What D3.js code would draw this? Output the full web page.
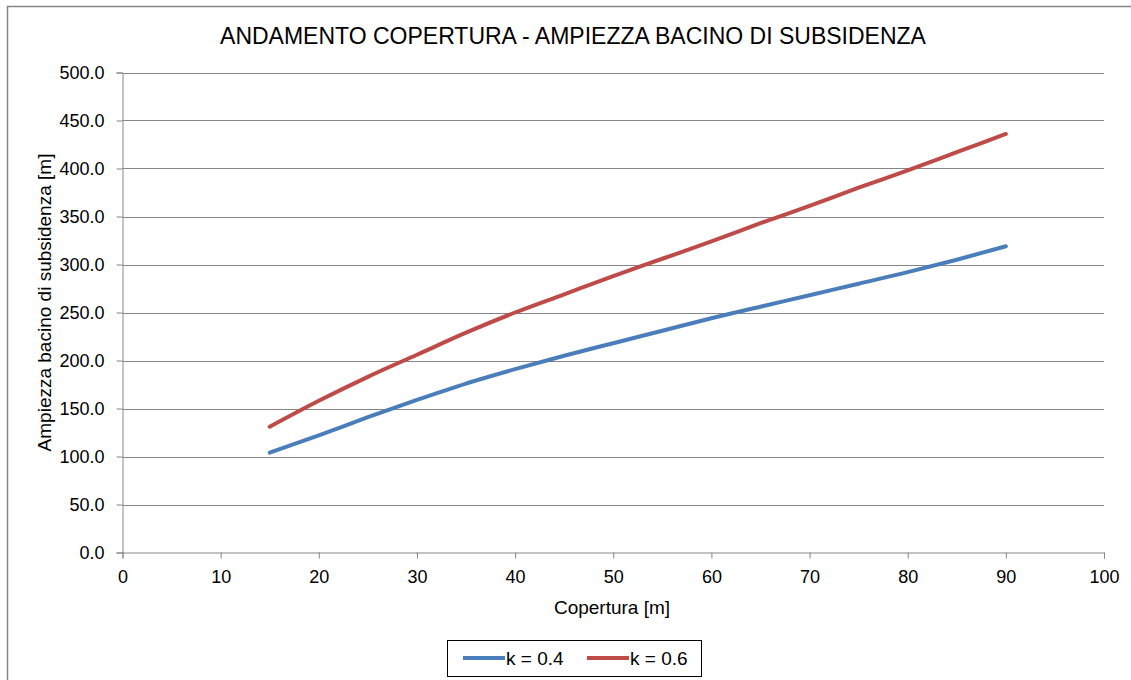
<!DOCTYPE html>
<html>
<head>
<meta charset="utf-8">
<script src="https://cdn.jsdelivr.net/npm/d3@7"></script>
<style>
  html, body { margin: 0; padding: 0; background: #fff; }
  svg { display: block; font-family: "Liberation Sans", Arial, sans-serif; }
</style>
</head>
<body>
<svg id="chart" width="1131" height="680"></svg>
<script>
const coverage = [15, 20, 25, 30, 35, 40, 45, 50, 55, 60, 65, 70, 75, 80, 85, 90];
const widthK04 = [104, 122, 141, 159, 176, 191, 205, 218, 231, 244, 256, 268, 280, 292, 305, 319];
const widthK06 = [131, 158, 183, 206, 229, 250, 269, 288, 306, 324, 343, 361, 380, 398, 417, 436];
const seriesNames = ["k = 0.4", "k = 0.6"];
const seriesColors = ["#4a7ebb", "#be4b48"];
const xTicks = [0, 10, 20, 30, 40, 50, 60, 70, 80, 90, 100];
const yTicks = [0, 50, 100, 150, 200, 250, 300, 350, 400, 450, 500];
const titleText = "ANDAMENTO COPERTURA - AMPIEZZA BACINO DI SUBSIDENZA";
const xTitle = "Copertura [m]";
const yTitle = "Ampiezza  bacino di subsidenza [m]";

const svg = d3.select("#chart");
const FONT = "'Liberation Sans', Arial, sans-serif";

// outer chart frame
svg.append("rect").attr("x", 7.5).attr("y", 6.5).attr("width", 1140).attr("height", 690)
  .attr("fill", "#fff").attr("stroke", "#868686").attr("stroke-width", 1.5);

const pLeft = 122.5, pRight = 1104, pTop = 72.5, pBottom = 552.5;
const x = d3.scaleLinear().domain([0, 100]).range([pLeft, pRight]);
const y = d3.scaleLinear().domain([0, 500]).range([pBottom, pTop]);

// gridlines
svg.append("g").selectAll("line").data(yTicks.filter(d => d > 0)).join("line")
  .attr("x1", pLeft).attr("x2", pRight)
  .attr("y1", d => Math.round(y(d)) + 0.5).attr("y2", d => Math.round(y(d)) + 0.5)
  .attr("stroke", "#868686").attr("stroke-width", 1);

// y axis
const yAxis = svg.append("g").attr("transform", `translate(${pLeft},0)`)
  .call(d3.axisLeft(y).tickValues(yTicks).tickFormat(d3.format(".1f")).tickSize(6).tickPadding(12));
yAxis.select(".domain").attr("stroke", "#868686");
yAxis.selectAll(".tick line").attr("stroke", "#868686");
yAxis.selectAll(".tick text").attr("font-size", 18).attr("fill", "#000").attr("font-family", FONT);

// x axis
const xAxis = svg.append("g").attr("transform", `translate(0,${pBottom})`)
  .call(d3.axisBottom(x).tickValues(xTicks).tickFormat(d3.format("d")).tickSize(6).tickPadding(12));
xAxis.select(".domain").attr("stroke", "#868686");
xAxis.selectAll(".tick line").attr("stroke", "#868686");
xAxis.selectAll(".tick text").attr("font-size", 18).attr("fill", "#000").attr("font-family", FONT);

// series
const series = [widthK04, widthK06];
const line = d3.line().x(d => x(d[0])).y(d => y(d[1])).curve(d3.curveMonotoneX);
series.forEach((vals, i) => {
  svg.append("path")
    .datum(coverage.map((c, j) => [c, vals[j]]))
    .attr("d", line).attr("fill", "none")
    .attr("stroke", seriesColors[i]).attr("stroke-width", 4)
    .attr("stroke-linecap", "round").attr("stroke-linejoin", "round");
});

// title
svg.append("text").attr("x", 573).attr("y", 44).attr("text-anchor", "middle")
  .attr("font-size", 23).attr("fill", "#000").text(titleText);

// axis titles
svg.append("text").attr("x", 612).attr("y", 614).attr("text-anchor", "middle")
  .attr("font-size", 19).attr("fill", "#000").text(xTitle);
svg.append("text").attr("transform", `translate(51,${(pTop + pBottom) / 2 - 10}) rotate(-90)`)
  .attr("text-anchor", "middle").attr("font-size", 19).attr("fill", "#000").text(yTitle);

// legend
const lg = svg.append("g");
lg.append("rect").attr("x", 447.5).attr("y", 640.5).attr("width", 254).attr("height", 36)
  .attr("fill", "#fff").attr("stroke", "#000").attr("stroke-width", 1);
const legendX = [463, 587];
seriesNames.forEach((name, i) => {
  lg.append("line").attr("x1", legendX[i]).attr("x2", legendX[i] + 42)
    .attr("y1", 658).attr("y2", 658).attr("stroke", seriesColors[i]).attr("stroke-width", 4);
  lg.append("text").attr("x", legendX[i] + 43).attr("y", 665)
    .attr("font-size", 19).attr("fill", "#000").text(name);
});
</script>
</body>
</html>
